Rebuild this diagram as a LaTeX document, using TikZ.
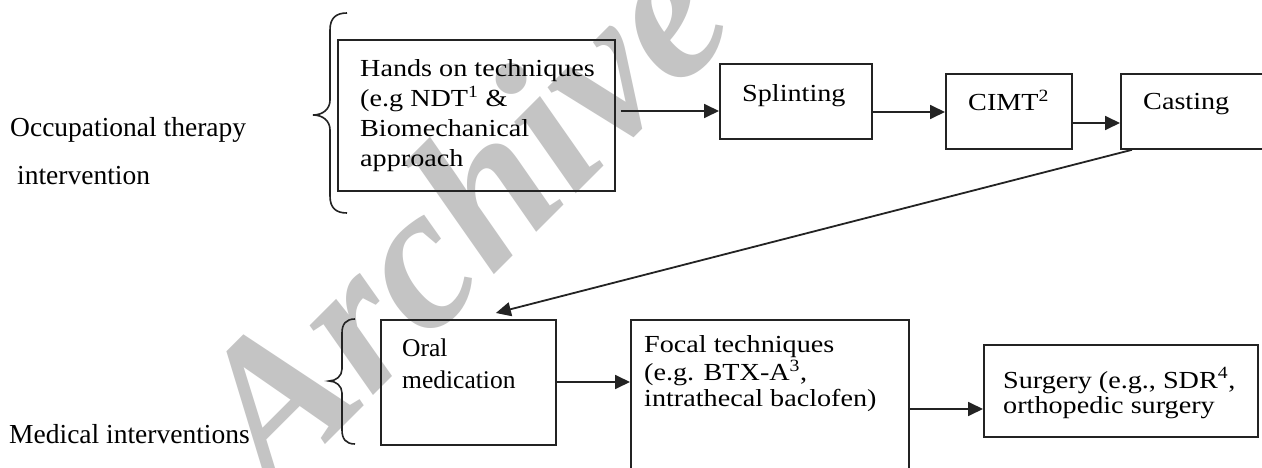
\documentclass[tikz,border=0pt]{standalone}
\usepackage{fontspec}
\setmainfont{Liberation Serif}
\newfontfamily\boxfont[FakeStretch=1.15]{Liberation Serif}
\usetikzlibrary{arrows.meta}
\definecolor{ink}{RGB}{35,35,35}
\definecolor{wmgray}{RGB}{196,196,196}
\newcommand{\boxlines}[1]{\begin{tabular}[t]{@{}l@{}}#1\end{tabular}}
\begin{document}
\begin{tikzpicture}[x=1pt,y=-1pt,
  box/.style={draw=ink, line width=1.8pt, inner sep=0pt, anchor=north west},
  arr/.style={draw=ink, line width=1.8pt, -{Triangle[length=15pt,width=14pt]}},
  brc/.style={draw=ink, line width=1.6pt},
  lbl/.style={inner sep=0pt, anchor=base west, font=\fontsize{27.5}{33}\selectfont},
  btxt/.style={inner sep=0pt, anchor=base west, font=\boxfont\fontsize{24.5}{30}\selectfont},
  wm/.style={text=wmgray, inner sep=0pt, font=\fontsize{205}{205}\selectfont\bfseries\itshape}]
\useasboundingbox (0,0) rectangle (1262,468);
\clip (0,0) rectangle (1262,468);
\fill[white] (0,0) rectangle (1262,468);
% watermark
\node[wm, rotate=45] (wmark) at (458,212) {Archive};
% left labels
\node[lbl] (occ1) at (10,137) {Occupational therapy};
\node[lbl] (occ2) at (17,185) {intervention};
\node[lbl] (med) at (9,443) {Medical interventions};
% braces
\draw[brc] (347,13) .. controls (336,13) and (330,18) .. (330,30) -- (330,100)
  .. controls (330,109) and (323,115) .. (313,115)
  .. controls (323,115) and (330,121) .. (330,130) -- (330,196)
  .. controls (330,208) and (336,213) .. (347,213);
\draw[brc] (355,319) .. controls (346,319) and (342,324) .. (342,333) -- (342,369)
  .. controls (342,376) and (336,381) .. (329,381)
  .. controls (336,381) and (342,386) .. (342,393) -- (342,430)
  .. controls (342,439) and (346,444) .. (355,444);
% boxes
\node[box, minimum width=277pt, minimum height=151pt] (hands) at (337,39) {};
\node[box, minimum width=152pt, minimum height=75pt] (splint) at (719,63) {};
\node[box, minimum width=126pt, minimum height=75pt] (cimt) at (945,73) {};
\node[box, minimum width=170pt, minimum height=75pt] (casting) at (1120,73) {};
\node[box, minimum width=175pt, minimum height=125pt] (oral) at (380,319) {};
\node[box, minimum width=278pt, minimum height=175pt] (focal) at (630,319) {};
\node[box, minimum width=274pt, minimum height=92pt] (surgery) at (983,344) {};
% box texts
\node[btxt] (handsT) at (360,77) {\boxlines{Hands on techniques\\(e.g NDT\textsuperscript{1} \&\\Biomechanical\\approach}};
\node[btxt] (splintT) at (742,102) {Splinting};
\node[btxt] (cimtT) at (968,111) {CIMT\textsuperscript{2}};
\node[btxt] (castingT) at (1143,110) {Casting};
\node[inner sep=0pt, anchor=base west, font=\fontsize{25.5}{32}\selectfont] (oralT) at (402,356) {\boxlines{Oral\\medication}};
\node[btxt, font=\boxfont\fontsize{24.5}{26}\selectfont] (focalT) at (644,352) {\boxlines{Focal techniques\\(e.g. BTX-A\textsuperscript{3},\\intrathecal baclofen)}};
\node[btxt, font=\boxfont\fontsize{24.5}{25}\selectfont] (surgeryT) at (1003,388) {\boxlines{Surgery (e.g., SDR\textsuperscript{4},\\orthopedic surgery}};
% connectors
\draw[arr, shorten <=5pt] (hands.east |- 0,111) -- (splint.west |- 0,111);
\draw[arr] (splint.east |- 0,112) -- (cimt.west |- 0,112);
\draw[arr] (cimt.east |- 0,123) -- (casting.west |- 0,123);
\draw[arr] ([xshift=12pt]casting.south west) -- ([xshift=27.5pt,yshift=6pt]oral.north);
\draw[arr] (oral.east |- 0,382) -- (focal.west |- 0,382);
\draw[arr] (focal.east |- 0,409) -- (surgery.west |- 0,409);
\end{tikzpicture}
\end{document}
